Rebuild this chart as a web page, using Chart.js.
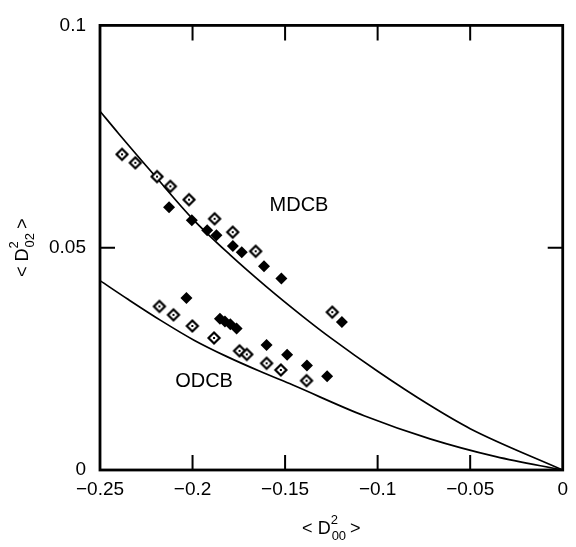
<!DOCTYPE html>
<html>
<head>
<meta charset="utf-8">
<script src="https://cdn.jsdelivr.net/npm/chart.js@4/dist/chart.umd.min.js"></script>
<style>
  html, body { margin: 0; padding: 0; background: #fff; }
  canvas { display: block; }
</style>
</head>
<body>
<canvas id="c" width="576" height="547"></canvas>
<script>
/* ── Data ───────────────────────────────────────────────────────── */
const mdcbOpenX   = [-0.2381, -0.2309, -0.2192, -0.2120, -0.2019, -0.1881, -0.1783, -0.1659, -0.1245];
const mdcbOpenY   = [0.0710, 0.0691, 0.0660, 0.0638, 0.0608, 0.0565, 0.0535, 0.0492, 0.0355];
const mdcbFilledX = [-0.2127, -0.2004, -0.1921, -0.1871, -0.1782, -0.1734, -0.1614, -0.1520, -0.1193];
const mdcbFilledY = [0.0591, 0.0562, 0.0539, 0.0528, 0.0504, 0.0490, 0.0458, 0.0431, 0.0333];
const odcbOpenX   = [-0.2179, -0.2103, -0.2001, -0.1884, -0.1746, -0.1707, -0.1600, -0.1523, -0.1384];
const odcbOpenY   = [0.0368, 0.0349, 0.0324, 0.0297, 0.0268, 0.0260, 0.0240, 0.0225, 0.0201];
const odcbFilledX = [-0.2033, -0.1852, -0.1825, -0.1796, -0.1762, -0.1600, -0.1489, -0.1382, -0.1273];
const odcbFilledY = [0.0387, 0.0340, 0.0334, 0.0328, 0.0318, 0.0281, 0.0259, 0.0235, 0.0211];

// model curves
const mdcbCurveX = [-0.25, -0.24, -0.22, -0.20, -0.18, -0.16, -0.14, -0.125, -0.10, -0.072, -0.05, 0];
const mdcbCurveY = [0.0807, 0.0757, 0.0660, 0.0565, 0.0485, 0.0412, 0.0344, 0.0296, 0.0222, 0.0146, 0.0093, 0];
const odcbCurveX = [-0.25, -0.2349, -0.2170, -0.1992, -0.1814, -0.1636, -0.1458, -0.1073, -0.0717, -0.0361, 0];
const odcbCurveY = [0.0426, 0.0384, 0.0336, 0.0292, 0.0255, 0.0222, 0.0191, 0.0122, 0.0070, 0.0030, 0];

const xTickValues = [-0.25, -0.2, -0.15, -0.1, -0.05, 0];
const xTickLabels = ["\u22120.25", "\u22120.2", "\u22120.15", "\u22120.1", "\u22120.05", "0"];
const yTickValues = [0, 0.05, 0.1];
const yTickLabels = ["0", "0.05", "0.1"];

const curveLabels = ["MDCB", "ODCB"];
const curveLabelX = [-0.1425, -0.1938];
const curveLabelY = [0.0596, 0.0200];

const FONT = "'Liberation Sans', Arial, Helvetica, sans-serif";

/* ── helpers ────────────────────────────────────────────────────── */
const pts = (xs, ys) => xs.map((x, i) => ({ x, y: ys[i] }));

function openDiamond(r) {
  const s = 16, m = s / 2;
  const c = document.createElement("canvas");
  c.width = c.height = s;
  const g = c.getContext("2d");
  g.beginPath();
  g.moveTo(m, m - r); g.lineTo(m + r, m); g.lineTo(m, m + r); g.lineTo(m - r, m);
  g.closePath();
  g.fillStyle = "#fff"; g.fill();
  g.lineWidth = 2.2; g.strokeStyle = "#000"; g.stroke();
  g.fillStyle = "#000"; g.fillRect(m - 1, m - 1, 2, 2);
  return c;
}
const openImg = openDiamond(5.5);

// "< D^sup_sub >" drawn centred at (0,0) in current transform
function drawTitle(ctx, sup, sub) {
  const big = "18px " + FONT, small = "13px " + FONT;
  ctx.font = big;
  const wL = ctx.measureText("< D").width;
  const wR = ctx.measureText(" >").width;
  ctx.font = small;
  const wS = Math.max(ctx.measureText(sup).width, ctx.measureText(sub).width);
  const total = wL + wS + wR;
  let x = -total / 2;
  ctx.textBaseline = "alphabetic";
  ctx.textAlign = "left";
  ctx.font = big;
  ctx.fillText("< D", x, 6);
  x += wL;
  ctx.font = small;
  ctx.fillText(sup, x, -4);
  ctx.fillText(sub, x + 1, 12);
  x += wS;
  ctx.font = big;
  ctx.fillText(" >", x, 6);
}

/* ── frame, inward ticks, labels, axis titles ───────────────────── */
const framePlugin = {
  id: "frame",
  afterDraw(chart) {
    const { ctx, chartArea: { left, right, top, bottom }, scales: { x, y } } = chart;
    ctx.save();
    ctx.strokeStyle = "#000";
    ctx.lineWidth = 2.8;
    ctx.strokeRect(left, top, right - left, bottom - top);
    ctx.lineWidth = 2;
    ctx.beginPath();
    xTickValues.slice(1, -1).forEach(v => {
      const px = x.getPixelForValue(v);
      ctx.moveTo(px, bottom); ctx.lineTo(px, bottom - 15);
      ctx.moveTo(px, top); ctx.lineTo(px, top + 15);
    });
    yTickValues.slice(1, -1).forEach(v => {
      const py = y.getPixelForValue(v);
      ctx.moveTo(left, py); ctx.lineTo(left + 15, py);
      ctx.moveTo(right, py); ctx.lineTo(right - 15, py);
    });
    ctx.stroke();

    ctx.fillStyle = "#000";
    ctx.font = "20px " + FONT;
    ctx.textAlign = "center";
    ctx.textBaseline = "middle";
    curveLabels.forEach((t, i) => {
      ctx.fillText(t, x.getPixelForValue(curveLabelX[i]), y.getPixelForValue(curveLabelY[i]));
    });

    // x title
    ctx.save();
    ctx.translate((left + right) / 2, 528);
    drawTitle(ctx, "2", "00");
    ctx.restore();
    // y title
    ctx.save();
    ctx.translate(22, (top + bottom) / 2);
    ctx.rotate(-Math.PI / 2);
    drawTitle(ctx, "2", "02");
    ctx.restore();

    ctx.restore();
  }
};

const curveStyle = { showLine: true, pointRadius: 0, borderColor: "#000", borderWidth: 1.7,
  cubicInterpolationMode: "monotone", fill: false };

new Chart(document.getElementById("c"), {
  type: "scatter",
  data: {
    datasets: [
      { label: "MDCB open", data: pts(mdcbOpenX, mdcbOpenY), pointStyle: openImg, order: 0 },
      { label: "ODCB open", data: pts(odcbOpenX, odcbOpenY), pointStyle: openImg, order: 0 },
      { label: "MDCB filled", data: pts(mdcbFilledX, mdcbFilledY), pointStyle: "rectRot", pointRadius: 6,
        backgroundColor: "#000", borderColor: "#000", borderWidth: 0, order: 0 },
      { label: "ODCB filled", data: pts(odcbFilledX, odcbFilledY), pointStyle: "rectRot", pointRadius: 6,
        backgroundColor: "#000", borderColor: "#000", borderWidth: 0, order: 0 },
      Object.assign({ label: "MDCB curve", data: pts(mdcbCurveX, mdcbCurveY), order: 1 }, curveStyle),
      Object.assign({ label: "ODCB curve", data: pts(odcbCurveX, odcbCurveY), order: 1 }, curveStyle)
    ]
  },
  options: {
    responsive: false,
    animation: false,
    devicePixelRatio: 1,
    layout: { padding: { top: 19, right: 8, left: 0, bottom: 0 } },
    plugins: { legend: { display: false }, tooltip: { enabled: false } },
    scales: {
      x: {
        type: "linear", min: -0.25, max: 0,
        afterBuildTicks: s => { s.ticks = xTickValues.map(v => ({ value: v })); },
        grid: { display: false, drawTicks: false },
        border: { display: false },
        ticks: {
          autoSkip: false, maxRotation: 0, padding: 8, color: "#000",
          font: { family: FONT, size: 19 },
          callback: v => xTickLabels[xTickValues.indexOf(v)] ?? ""
        },
        afterFit: s => { s.height = 77; }
      },
      y: {
        type: "linear", min: 0, max: 0.1,
        afterBuildTicks: s => { s.ticks = yTickValues.map(v => ({ value: v })); },
        grid: { display: false, drawTicks: false },
        border: { display: false },
        ticks: {
          autoSkip: false, padding: 14, color: "#000",
          font: { family: FONT, size: 19 },
          callback: v => yTickLabels[yTickValues.indexOf(v)] ?? ""
        },
        afterFit: s => { s.width = 100; }
      }
    }
  },
  plugins: [framePlugin]
});
</script>
</body>
</html>
